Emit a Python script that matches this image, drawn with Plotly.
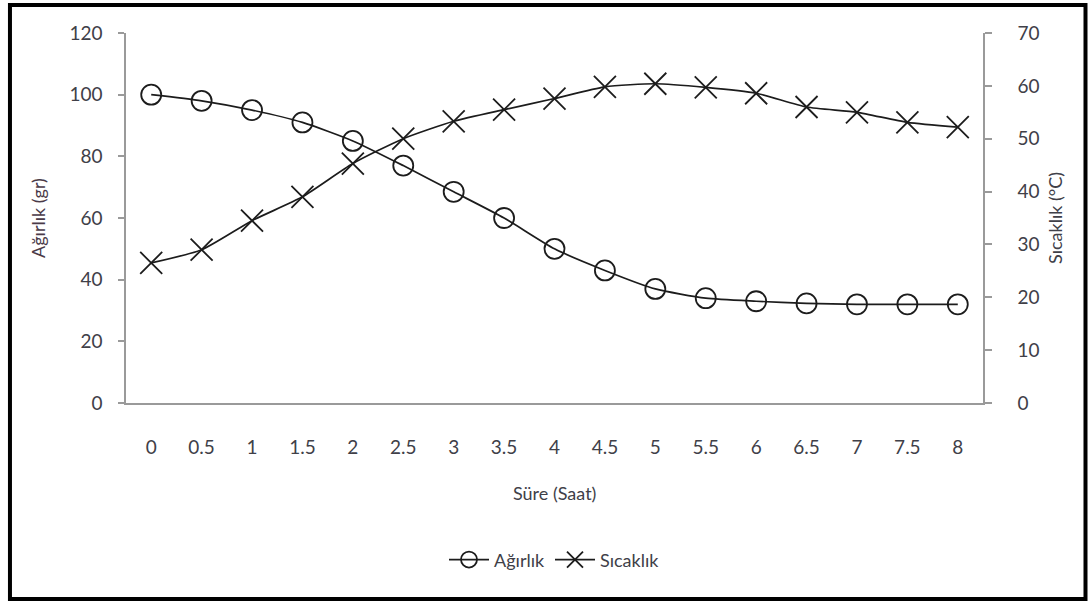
import plotly.graph_objects as go

# Drying run: sample weight and temperature over time
sure_saat = ["0", "0.5", "1", "1.5", "2", "2.5", "3", "3.5", "4",
             "4.5", "5", "5.5", "6", "6.5", "7", "7.5", "8"]
agirlik_gr = [100, 98, 95, 91, 85, 77, 68.5, 60, 50,
              43, 37, 34, 33, 32.3, 32, 32, 32]
sicaklik_c = [26.5, 29, 34.5, 39, 45.3, 50, 53.3, 55.5, 57.6,
              59.8, 60.4, 59.7, 58.6, 56, 55, 53.1, 52.2]

left_ticks = [0, 20, 40, 60, 80, 100, 120]
right_ticks = [0, 10, 20, 30, 40, 50, 60, 70]

FONT = "Lato, Calibri, Arial, sans-serif"
TEXT = "#404048"
AXIS = "#9a9a9a"
INK = "#1c1c1c"

fig = go.Figure()

fig.add_trace(go.Scatter(
    x=sure_saat, y=agirlik_gr, name="Ağırlık",
    mode="lines+markers",
    line=dict(color=INK, width=1.7, shape="spline", smoothing=0.6),
    marker=dict(symbol="circle-open", size=20, color=INK,
                line=dict(width=1.8, color=INK)),
    yaxis="y",
))

fig.add_trace(go.Scatter(
    x=sure_saat, y=sicaklik_c, name="Sıcaklık",
    mode="lines+markers",
    line=dict(color=INK, width=1.7, shape="spline", smoothing=0.6),
    marker=dict(symbol="x-thin-open", size=22, color=INK,
                line=dict(width=1.8, color=INK)),
    yaxis="y2",
))

fig.update_layout(
    width=1092, height=603,
    margin=dict(l=126, r=109, t=33, b=200),
    paper_bgcolor="white", plot_bgcolor="white",
    font=dict(family=FONT, size=19, color=TEXT),
    showlegend=True,
    legend=dict(orientation="h", x=0.5, xanchor="center",
                y=-0.424, yanchor="middle",
                font=dict(family=FONT, size=18, color=TEXT),
                itemwidth=40, bgcolor="rgba(0,0,0,0)"),
    xaxis=dict(
        type="category", categoryorder="array", categoryarray=sure_saat,
        range=[-0.5, len(sure_saat) - 0.5],
        showline=True, linecolor=AXIS, linewidth=1.5,
        showgrid=False, zeroline=False, ticks="",
        ticklabelstandoff=26,
        tickfont=dict(family=FONT, size=19, color=TEXT),
    ),
    yaxis=dict(
        range=[0, 120], tickvals=left_ticks,
        showline=True, linecolor=AXIS, linewidth=1.5,
        ticks="outside", ticklen=6, tickcolor=AXIS, tickwidth=1.5,
        showgrid=False, zeroline=False,
        ticklabelstandoff=12,
        tickfont=dict(family=FONT, size=19, color=TEXT),
    ),
    yaxis2=dict(
        range=[0, 70], tickvals=right_ticks,
        overlaying="y", side="right",
        showline=True, linecolor=AXIS, linewidth=1.5,
        ticks="outside", ticklen=7, tickcolor=AXIS, tickwidth=1.5,
        showgrid=False, zeroline=False,
        ticklabelstandoff=22,
        tickfont=dict(family=FONT, size=19, color=TEXT),
    ),
    annotations=[
        dict(text="Ağırlık (gr)", xref="paper", yref="paper",
             x=-0.1027, y=0.5, textangle=-90, showarrow=False,
             xanchor="center", yanchor="middle",
             font=dict(family=FONT, size=18, color="#4a3a48")),
        dict(text="Sıcaklık (°C)", xref="paper", yref="paper",
             x=1.084, y=0.5, textangle=-90, showarrow=False,
             xanchor="center", yanchor="middle",
             font=dict(family=FONT, size=18, color=TEXT)),
        dict(text="Süre (Saat)", xref="paper", yref="paper",
             x=0.5, y=-0.243, showarrow=False,
             xanchor="center", yanchor="middle",
             font=dict(family=FONT, size=18, color=TEXT)),
    ],
    shapes=[
        # outer chart frame
        dict(type="rect", xref="paper", yref="paper",
             x0=-0.1354, x1=1.1196, y0=-0.5297, y1=1.0757,
             line=dict(color="black", width=4), layer="above"),
    ],
)

fig.write_html("out.html")
